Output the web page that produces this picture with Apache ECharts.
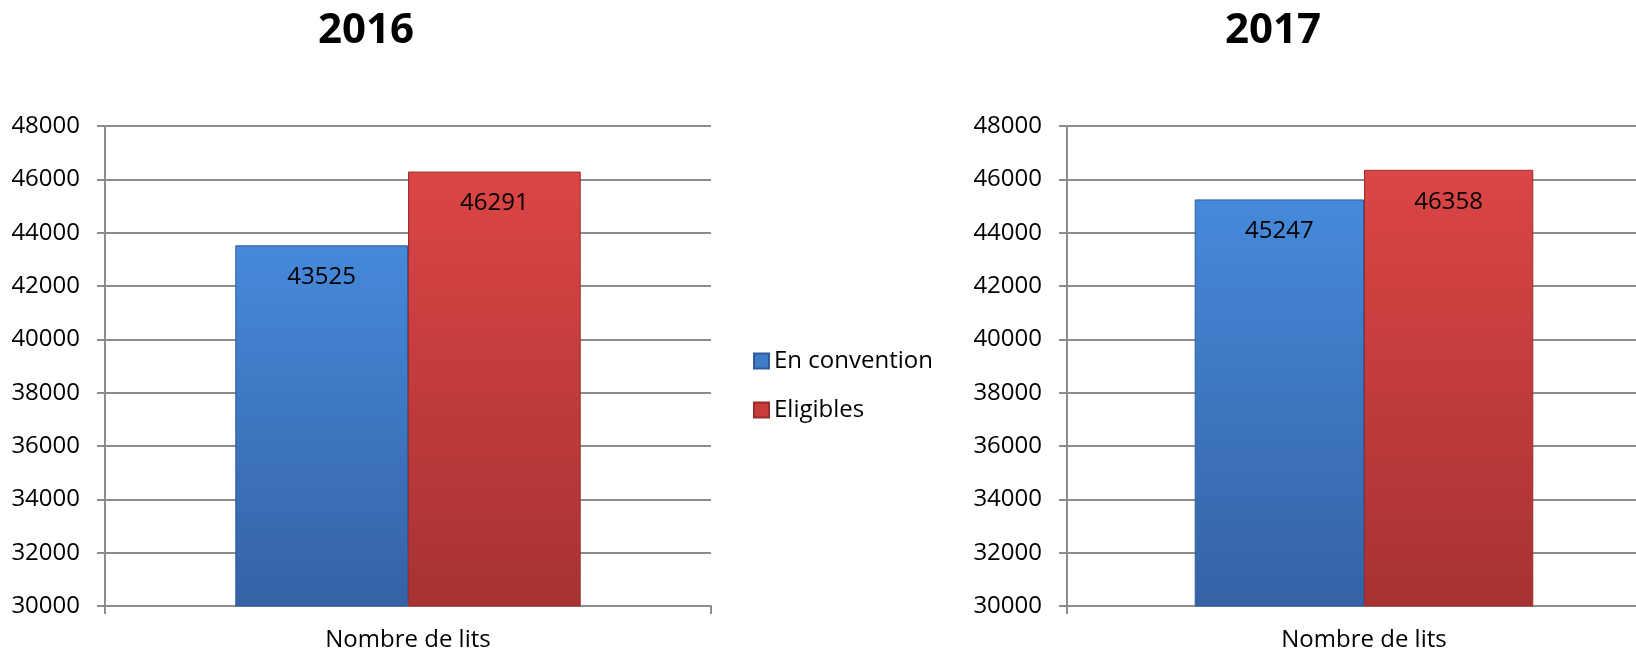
<!DOCTYPE html>
<html>
<head>
<meta charset="utf-8">
<script src="https://cdn.jsdelivr.net/npm/echarts@6/dist/echarts.min.js"></script>
<style>
html,body{margin:0;padding:0;background:#fff;}
#c{width:1636px;height:651px;}
</style>
</head>
<body>
<div id="c"></div>
<script>
const titles = ['2016', '2017'];
const categories = ['Nombre de lits'];
const seriesNames = ['En convention', 'Eligibles'];
const enConvention = [43525, 45247]; // 2016, 2017
const eligibles = [46291, 46358];    // 2016, 2017
const yMin = 30000, yMax = 48000, yStep = 2000;

const FONT = '"Open Sans", "Liberation Sans", sans-serif';
const gridColor = '#8c8c8c';

function grad(top, bottom) {
  return new echarts.graphic.LinearGradient(0, 0, 0, 1, [
    {offset: 0, color: top}, {offset: 1, color: bottom}
  ]);
}
const blue = grad('#4689da', '#3562a5');
const red = grad('#dc4545', '#a63232');

const grids = [
  {left: 105, top: 126, width: 606, height: 480, outerBoundsMode: 'none', containLabel: false},
  {left: 1067, top: 126, width: 594, height: 480, outerBoundsMode: 'none', containLabel: false}
];

const xAxes = grids.map((g, i) => ({
  type: 'category', gridIndex: i, data: categories,
  axisLine: {lineStyle: {color: gridColor, width: 2}},
  axisTick: {show: true, length: 8, lineStyle: {color: gridColor, width: 2}},
  axisLabel: {color: '#000', fontSize: 24, fontFamily: FONT, margin: 22}
}));
const yAxes = grids.map((g, i) => ({
  type: 'value', gridIndex: i, min: yMin, max: yMax, interval: yStep,
  axisLine: {show: true, lineStyle: {color: gridColor, width: 2}},
  axisTick: {show: true, length: 8, lineStyle: {color: gridColor, width: 2}},
  splitLine: {show: true, lineStyle: {color: gridColor, width: 2}},
  axisLabel: {color: '#000', fontSize: 24, fontFamily: FONT, margin: 25, formatter: v => String(v)}
}));

const series = [];
[0, 1].forEach(i => {
  series.push({
    name: seriesNames[0], type: 'bar', xAxisIndex: i, yAxisIndex: i,
    data: [enConvention[i]], barGap: '0%', barCategoryGap: '43%',
    itemStyle: {color: blue, borderColor: '#2f5b99', borderWidth: 1},
    label: {show: true, position: 'insideTop', distance: 20, color: '#000', fontSize: 24, fontFamily: FONT}
  });
  series.push({
    name: seriesNames[1], type: 'bar', xAxisIndex: i, yAxisIndex: i,
    data: [eligibles[i]], barGap: '0%', barCategoryGap: '43%',
    itemStyle: {color: red, borderColor: '#9a2e2e', borderWidth: 1},
    label: {show: true, position: 'insideTop', distance: 20, color: '#000', fontSize: 24, fontFamily: FONT}
  });
});

const chart = echarts.init(document.getElementById('c'), null, {renderer: 'canvas'});
chart.setOption({
  animation: false,
  backgroundColor: '#fff',
  grid: grids,
  xAxis: xAxes,
  yAxis: yAxes,
  legend: {
    data: seriesNames.map((n, k) => ({name: n, itemStyle: {color: k === 0 ? '#3f7cc8' : '#c83c3c'}})),
    orient: 'vertical', left: 748, top: 344,
    itemWidth: 15, itemHeight: 15, itemGap: 25,
    icon: 'rect',
    textStyle: {color: '#000', fontSize: 24, fontFamily: FONT}
  },
  graphic: [
    {type: 'text', x: 366, y: 31, style: {text: titles[0], font: 'bold 42px ' + FONT, fill: '#000', align: 'center', verticalAlign: 'middle'}},
    {type: 'text', x: 1273, y: 31, style: {text: titles[1], font: 'bold 42px ' + FONT, fill: '#000', align: 'center', verticalAlign: 'middle'}}
  ],
  series: series
});
</script>
</body>
</html>
